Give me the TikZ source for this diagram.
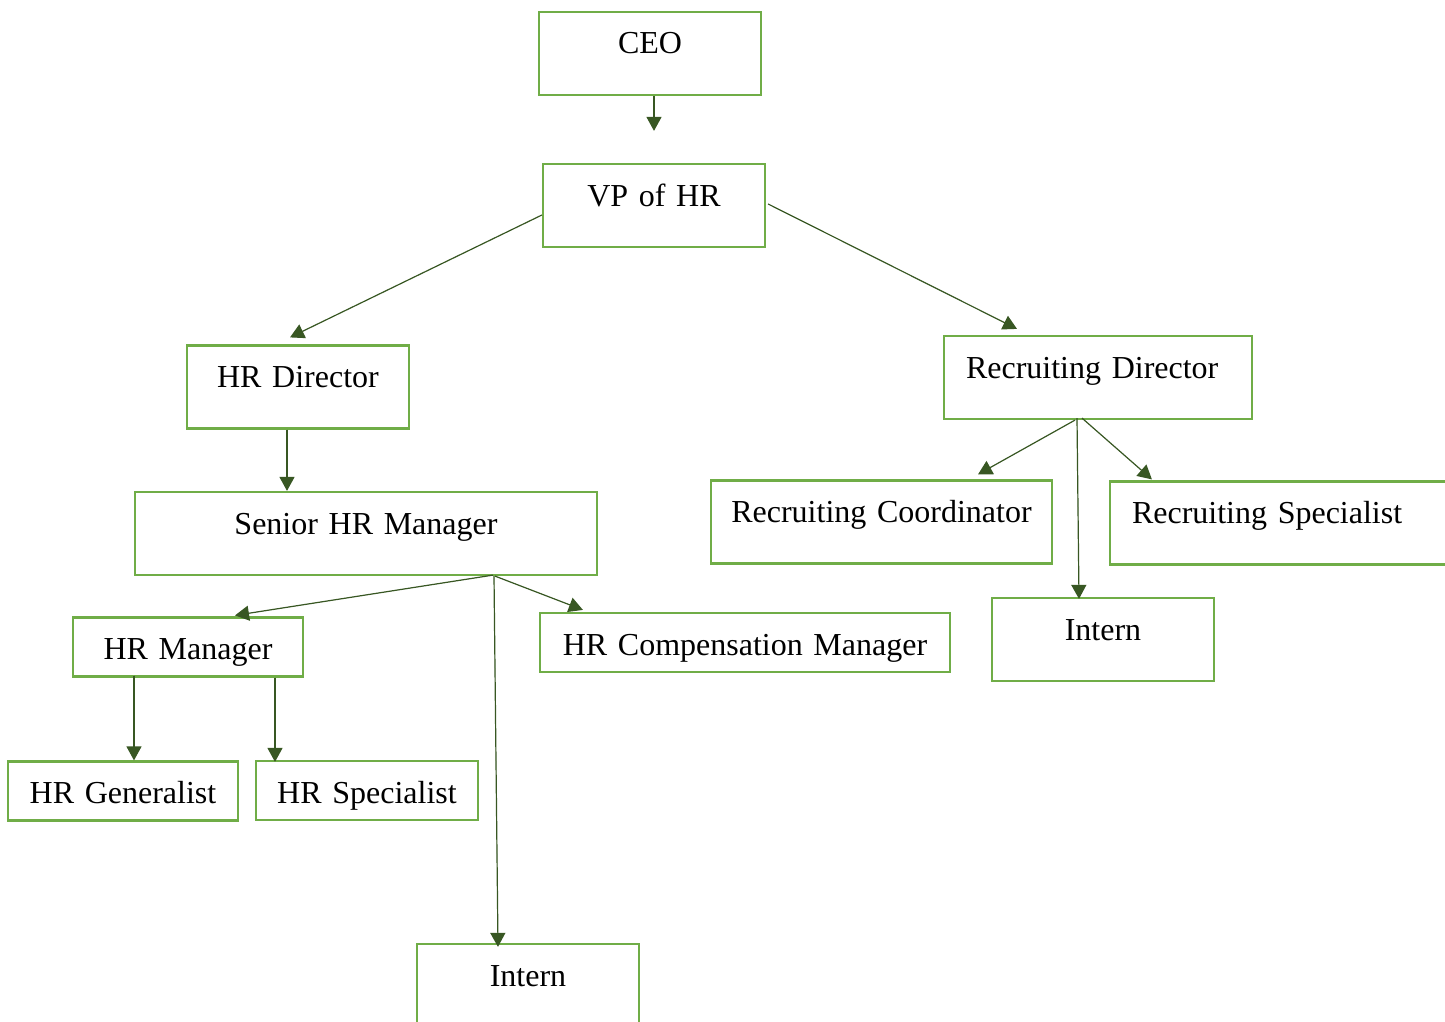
\documentclass[tikz,border=0pt]{standalone}
\usepackage{fontspec}
\setmainfont{Liberation Serif}
\usetikzlibrary{arrows.meta,calc}
\definecolor{boxgreen}{HTML}{70AD47}
\definecolor{linkgreen}{HTML}{385723}

\begin{document}
\begin{tikzpicture}[x=0.5pt,y=-0.5pt,
  b/.style={draw=boxgreen,line width=1.1pt,inner xsep=0pt,inner ysep=0pt,align=center,font={\fontsize{16}{19}\selectfont\spaceskip=3.5pt\relax},text height=21pt},
  tall/.style={b,text depth=20.5pt},
  short/.style={b,text depth=8.5pt},
  lft/.style={align=left,inner xsep=11pt},
  arr/.style={-{Triangle[length=7pt,width=7.5pt]},draw=linkgreen,fill=linkgreen,line width=0.6pt}]
\useasboundingbox (0,0) rectangle (1445,1022);
\clip (0,0) rectangle (1445,1022);
\node[tall,text width=111pt] (ceo) at (650,53.5) {CEO};
\node[tall,text width=111pt] (vp) at (654,205.5) {VP of HR};
\node[tall,text width=111pt] (hrdir) at (298,387) {HR Director};
\node[tall,lft,text width=132pt] (recdir) at (1098,377.5) {Recruiting Director};
\node[tall,text width=231pt] (senior) at (366,533.5) {Senior HR Manager};
\node[tall,text width=170.5pt] (reccoord) at (881.5,522) {Recruiting Coordinator};
\node[tall,lft,text width=153pt] (recspec) at (1285,523) {Recruiting Specialist};
\node[tall,text width=111pt] (internr) at (1103,639.5) {Intern};
\node[short,text width=115pt] (hrmgr) at (188,647) {HR Manager};
\node[short,text width=205pt] (hrcomp) at (745,642.5) {HR Compensation Manager};
\node[short,text width=115pt] (hrgen) at (123,791) {HR Generalist};
\node[short,text width=111pt] (hrspec) at (367,790.5) {HR Specialist};
\node[tall,text width=111pt] (internb) at (528,985.5) {Intern};
% reporting lines
\draw[arr] ($(ceo.south)+(4,0)$) -- ($(vp.north)+(0,-32)$);
\draw[arr] ($(vp.west)+(0,9.5)$) -- ($(hrdir.north)+(-8,-7)$);
\draw[arr] ($(vp.east)+(2,-1.5)$) -- ($(recdir.north)+(-81,-6)$);
\draw[arr] ($(hrdir.south)+(-11,0)$) -- ($(senior.north)+(-79,0)$);
\draw[arr] ($(recdir.south)+(-23,0)$) -- ($(reccoord.north)+(96.5,-5)$);
\draw[arr] ($(recdir.south)+(-21,-2)$) -- ($(internr.north)+(-24,2)$);
\draw[arr] ($(recdir.south)+(-16,-2)$) -- ($(recspec.north west)+(43,-1)$);
\draw[arr] ($(senior.south)+(127,-1)$) -- ($(hrmgr.north)+(47,-1)$);
\draw[arr] ($(senior.south)+(129,0)$) -- ($(hrcomp.north west)+(44,-2)$);
\draw[arr] ($(senior.south)+(128,0)$) -- ($(internb.north)+(-30,4)$);
\draw[arr] ($(hrmgr.south)+(-54,-2)$) -- ($(hrgen.north)+(11,0)$);
\draw[arr] ($(hrmgr.south)+(87,0)$) -- ($(hrspec.north)+(-92,2)$);
\end{tikzpicture}
\end{document}
